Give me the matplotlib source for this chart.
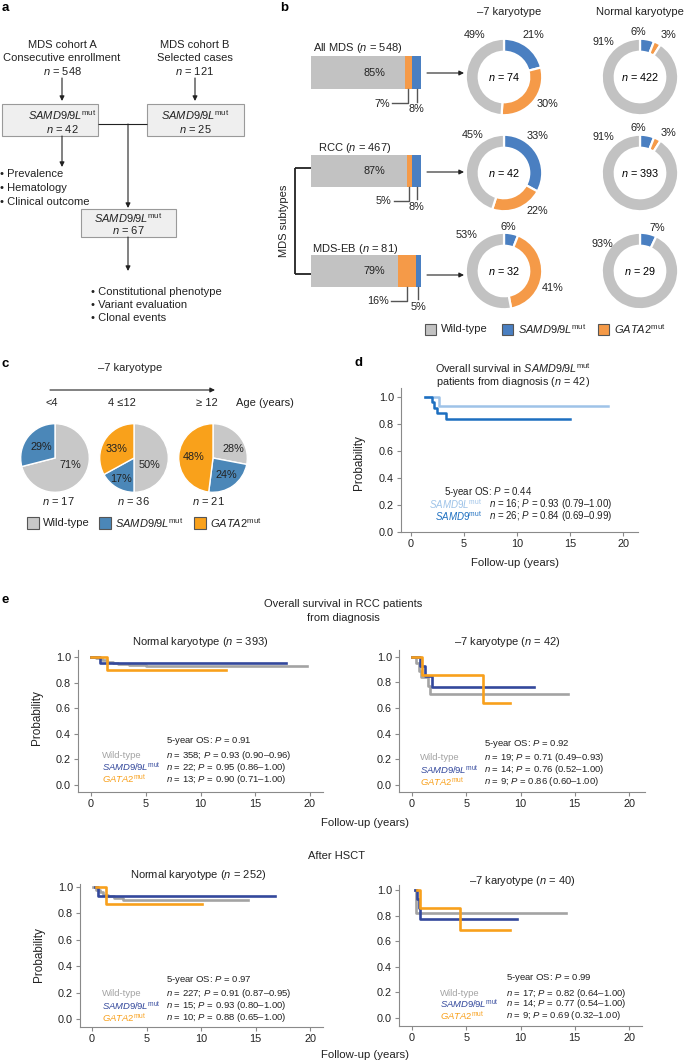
import numpy as np
import matplotlib
matplotlib.use('Agg')
from matplotlib import pyplot as plt
from matplotlib.patches import Rectangle

plt.rcParams['font.family'] = ['Liberation Sans', 'DejaVu Sans']
plt.rcParams['mathtext.fontset'] = 'custom'
plt.rcParams['mathtext.rm'] = 'Liberation Sans'
plt.rcParams['mathtext.it'] = 'Liberation Sans:italic'
plt.rcParams['mathtext.bf'] = 'Liberation Sans:bold'

# ---- data: panel b ----
bar_groups = ['All MDS', 'RCC', 'MDS-EB']
bar_n = [548, 467, 81]
bar_wt = [85, 87, 79]
bar_gata2 = [7, 5, 16]
bar_samd9 = [8, 8, 5]

m7_n = [74, 42, 32]
m7_samd9 = [21, 33, 6]
m7_gata2 = [30, 22, 41]
m7_wt = [49, 45, 53]

nk_n = [422, 393, 29]
nk_samd9 = [6, 6, 7]
nk_gata2 = [3, 3, 0]
nk_wt = [91, 91, 93]

# ---- data: panel c ----
age_groups = ['<4', '4 \u226412', '\u2265 12']
age_n = [17, 36, 21]
age_wt = [71, 50, 28]
age_samd9 = [29, 17, 24]
age_gata2 = [0, 33, 48]

# ---- data: panel d (Kaplan-Meier steps) ----
d_9l_t = [1.35, 2.7, 18.6]
d_9l_s = [1.0, 0.93, 0.93]
d_9_t = [1.35, 2.0, 2.15, 2.5, 3.3, 15.0]
d_9_s = [1.0, 0.96, 0.92, 0.88, 0.835, 0.835]

# ---- data: panel e (Kaplan-Meier steps) ----
# RCC normal karyotype
e1_wt_t = [0, 0.5, 1.0, 1.5, 2.0, 2.5, 3.5, 5.0, 19.7]
e1_wt_s = [1.0, 0.99, 0.975, 0.96, 0.95, 0.945, 0.94, 0.93, 0.93]
e1_sa_t = [0, 0.8, 17.8]
e1_sa_s = [1.0, 0.953, 0.953]
e1_ga_t = [0, 1.5, 12.3]
e1_ga_s = [1.0, 0.90, 0.90]
# RCC -7 karyotype
e2_wt_t = [0, 0.35, 0.6, 0.85, 1.5, 1.7, 14.4]
e2_wt_s = [1.0, 0.95, 0.89, 0.84, 0.77, 0.71, 0.71]
e2_sa_t = [0, 0.7, 1.2, 1.8, 11.2]
e2_sa_s = [1.0, 0.93, 0.85, 0.76, 0.76]
e2_ga_t = [0, 0.9, 6.5, 9.0]
e2_ga_s = [1.0, 0.86, 0.64, 0.64]
# HSCT normal karyotype
e3_wt_t = [0.1, 0.4, 0.7, 1.0, 1.5, 2.0, 2.8, 14.3]
e3_wt_s = [1.0, 0.98, 0.96, 0.94, 0.93, 0.92, 0.905, 0.905]
e3_sa_t = [0.3, 0.55, 16.8]
e3_sa_s = [1.0, 0.93, 0.93]
e3_ga_t = [0.4, 1.3, 10.1]
e3_ga_s = [1.0, 0.87, 0.87]
# HSCT -7 karyotype
e4_wt_t = [0.3, 0.4, 14.2]
e4_wt_s = [1.0, 0.82, 0.82]
e4_sa_t = [0.3, 0.5, 0.6, 0.75, 9.7]
e4_sa_s = [1.0, 0.93, 0.86, 0.77, 0.77]
e4_ga_t = [0.45, 0.75, 4.4, 9.0]
e4_ga_s = [1.0, 0.86, 0.69, 0.69]

# stats printed on the KM plots
d_os = '0.44'
d_n = [16, 26]
d_p = ['0.93', '0.84']
d_ci = ['0.79\u20131.00', '0.69\u20130.99']

e_os = ['0.91', '0.92', '0.97', '0.99']
e_n = [[358, 22, 13], [19, 14, 9], [227, 15, 10], [17, 14, 9]]
e_p = [['0.93', '0.95', '0.90'], ['0.71', '0.76', '0.86'],
       ['0.91', '0.93', '0.88'], ['0.82', '0.77', '0.69']]
e_ci = [['0.90\u20130.96', '0.86\u20131.00', '0.71\u20131.00'],
        ['0.49\u20130.93', '0.52\u20131.00', '0.60\u20131.00'],
        ['0.87\u20130.95', '0.80\u20131.00', '0.65\u20131.00'],
        ['0.64\u20131.00', '0.54\u20131.00', '0.32\u20131.00']]

# colours
GRAY_B, BLUE_B, ORANGE_B = '#c2c2c2', '#4a7fc1', '#f59a48'
GRAY_C, BLUE_C, ORANGE_C = '#c8c8c8', '#4b87b8', '#f9a11b'
KM_GRAY, KM_BLUE, KM_ORANGE = '#a3a3a3', '#33489c', '#f8a01c'
D_LIGHT, D_DARK = '#9ec3e8', '#1d6fc0'
TXT = '#222222'

W, H = 685, 1062
fig = plt.figure(figsize=(W / 100, H / 100), dpi=100)


def px_axes(x0, y0, x1, y1):
    return fig.add_axes([x0 / W, 1 - y1 / H, (x1 - x0) / W, (y1 - y0) / H])


def circle_axes(cx, cy, r):
    ax = px_axes(cx - r, cy - r, cx + r, cy + r)
    return ax


def draw_pie(ax, vals, cols, width=None, lw=1.0):
    v = [x for x in vals if x > 0]
    c = [cc for x, cc in zip(vals, cols) if x > 0]
    wp = dict(edgecolor='white', linewidth=lw)
    if width is not None:
        wp['width'] = width
    ax.pie(v, colors=c, startangle=90, counterclock=False, radius=1,
           wedgeprops=wp)
    ax.set_xlim(-1.02, 1.02)
    ax.set_ylim(-1.02, 1.02)
    ax.set_aspect('equal')
    ax.axis('off')


# ---- panel b: stacked bars ----
bar_rows = [(56, 89), (155, 187), (255, 287)]
for i, (y0, y1) in enumerate(bar_rows):
    ax = px_axes(311, y0, 421, y1)
    ax.barh(0, bar_wt[i], height=1, color=GRAY_B, lw=0)
    ax.barh(0, bar_gata2[i], left=bar_wt[i], height=1, color=ORANGE_B, lw=0)
    ax.barh(0, bar_samd9[i], left=bar_wt[i] + bar_gata2[i], height=1,
            color=BLUE_B, lw=0)
    ax.set_xlim(0, 100)
    ax.set_ylim(-0.5, 0.5)
    ax.axis('off')
    c_o = bar_wt[i] + bar_gata2[i] / 2
    c_b = bar_wt[i] + bar_gata2[i] + bar_samd9[i] / 2
    ax.plot([c_o, c_o, c_o - 14.5], [-0.5, -0.93, -0.93], color='#555555',
            lw=1.0, clip_on=False)
    ax.text(c_o - 16.5, -0.95, f'{bar_gata2[i]}%', ha='right', va='center',
            fontsize=7.8, color=TXT)
    ax.plot([c_b, c_b], [-0.5, -0.89], color='#555555', lw=1.0, clip_on=False)
    ax.text(c_b, -1.12, f'{bar_samd9[i]}%', ha='center', va='center',
            fontsize=7.8, color=TXT)
    ax.text(58, 0, f'{bar_wt[i]}%', ha='center', va='center', fontsize=7.8,
            color=TXT)

# ---- panel b: donuts ----
donut_y = [77, 173, 271]
for i, cy in enumerate(donut_y):
    ax = circle_axes(504, cy, 39)
    draw_pie(ax, [m7_samd9[i], m7_gata2[i], m7_wt[i]],
             [BLUE_B, ORANGE_B, GRAY_B], width=0.34, lw=1.6)
    ax.text(0, 0, f'$n$ = {m7_n[i]}', ha='center', va='center', fontsize=7.8)
    ax = circle_axes(640, cy, 39)
    draw_pie(ax, [nk_samd9[i], nk_gata2[i], nk_wt[i]],
             [BLUE_B, ORANGE_B, GRAY_B], width=0.34, lw=1.6)
    ax.text(0, 0, f'$n$ = {nk_n[i]}', ha='center', va='center', fontsize=7.8)

# ---- panel c: pies ----
pie_x = [55, 134, 213]
for i, cx in enumerate(pie_x):
    ax = circle_axes(cx, 458, 35)
    draw_pie(ax, [age_wt[i], age_samd9[i], age_gata2[i]],
             [GRAY_C, BLUE_C, ORANGE_C], lw=1.0)


# ---- KM axes ----
def km_axes(box, x_ref, y_ref):
    l, r, t, b = box
    x0, x20 = x_ref
    y1, y0 = y_ref
    ax = px_axes(l, t, r, b)
    sx = (x20 - x0) / 20
    sy = y0 - y1
    ax.set_xlim((l - x0) / sx, (r - x0) / sx)
    ax.set_ylim((y0 - b) / sy, (y0 - t) / sy)
    ax.spines[['top', 'right']].set_visible(False)
    for s in ['left', 'bottom']:
        ax.spines[s].set_color('#8a8a8a')
        ax.spines[s].set_linewidth(0.8)
    ax.set_xticks([0, 5, 10, 15, 20])
    ax.set_yticks(np.arange(0, 1.01, 0.2))
    ax.yaxis.set_major_formatter('{x:.1f}')
    ax.tick_params(length=3, width=0.8, color='#8a8a8a', labelsize=7.8,
                   pad=2, labelcolor=TXT)
    ax.patch.set_alpha(0)
    return ax


ax = km_axes((401, 638, 388, 532), (410.7, 623), (396.7, 532))
ax.step(d_9l_t, d_9l_s, where='post', color=D_LIGHT, lw=1.8)
ax.step(d_9_t, d_9_s, where='post', color=D_DARK, lw=1.8)

km_sets = [
    ((78, 323, 650, 792), (91, 310), (657, 785),
     [(e1_wt_t, e1_wt_s), (e1_sa_t, e1_sa_s), (e1_ga_t, e1_ga_s)]),
    ((399, 645, 650, 792), (412, 629), (656.7, 785),
     [(e2_wt_t, e2_wt_s), (e2_sa_t, e2_sa_s), (e2_ga_t, e2_ga_s)]),
    ((80, 323, 884, 1027), (92, 310), (887, 1019),
     [(e3_wt_t, e3_wt_s), (e3_sa_t, e3_sa_s), (e3_ga_t, e3_ga_s)]),
    ((399, 642, 885, 1026), (412, 629), (890, 1017.7),
     [(e4_wt_t, e4_wt_s), (e4_sa_t, e4_sa_s), (e4_ga_t, e4_ga_s)]),
]
for box, xr, yr, curves in km_sets:
    ax = km_axes(box, xr, yr)
    for (t, s), col in zip(curves, [KM_GRAY, KM_BLUE, KM_ORANGE]):
        ax.step(t, s, where='post', color=col, lw=1.9)

# ---- overlay for text, flowchart and annotations ----
ov = fig.add_axes([0, 0, 1, 1])
ov.set_xlim(0, W)
ov.set_ylim(H, 0)
ov.axis('off')
ov.patch.set_alpha(0)


def txt(x, y, s, size=7.8, ha='center', **kw):
    kw.setdefault('color', TXT)
    ov.text(x, y, s, fontsize=size, ha=ha, va='center', **kw)


def arrow(x0, y0, x1, y1, lw=0.8):
    ov.annotate('', xy=(x1, y1), xytext=(x0, y0),
                arrowprops=dict(arrowstyle='-|>', color=TXT, lw=lw,
                                mutation_scale=7, shrinkA=0, shrinkB=0))


def line(xs, ys, lw=0.8, color=TXT):
    ov.plot(xs, ys, color=color, lw=lw, solid_capstyle='butt')


SAMD = r'$\it{SAMD9/9L}^{\rm mut}$'
GATA = r'$\it{GATA2}^{\rm mut}$'

# panel letters
for lab, x, y in [('a', 2, 8), ('b', 280, 8), ('c', 2, 364), ('d', 355, 363),
                  ('e', 2, 600)]:
    txt(x, y, lab, size=9.5, ha='left', fontweight='bold', color='black')

# ---- panel a: flowchart ----
for y, s in zip([45, 58, 71], ['MDS cohort A', 'Consecutive enrollment',
                               r'$n$ = 548']):
    txt(62, y, s, size=8)
for y, s in zip([45, 58, 71], ['MDS cohort B', 'Selected cases',
                               r'$n$ = 121']):
    txt(195, y, s, size=8)
arrow(62, 78, 62, 101)
arrow(195, 78, 195, 101)
for (x, y, w, h) in [(2, 104, 96, 32), (147, 104, 97, 32), (81, 209, 95, 28)]:
    ov.add_patch(Rectangle((x, y), w, h, fc='#efefef', ec='#9a9a9a', lw=0.8))
txt(62, 115, SAMD, size=8)
txt(62, 129, r'$n$ = 42', size=8)
txt(195, 115, SAMD, size=8)
txt(195, 129, r'$n$ = 25', size=8)
txt(128, 218, SAMD, size=8)
txt(128, 230, r'$n$ = 67', size=8)
line([98, 147], [124, 124])
arrow(128, 124, 128, 208)
arrow(62, 136, 62, 167)
arrow(128, 237, 128, 271)
for y, s in zip([174, 188, 202], ['Prevalence', 'Hematology',
                                  'Clinical outcome']):
    txt(0, y, '\u2022 ' + s, size=8, ha='left')
for y, s in zip([292, 305, 318], ['Constitutional phenotype',
                                  'Variant evaluation', 'Clonal events']):
    txt(91, y, '\u2022 ' + s, size=8, ha='left')

# ---- panel b: text ----
txt(509, 12, '\u20137 karyotype', size=8)
txt(640, 12, 'Normal karyotype', size=8)
for (x, y), g, n in zip([(313, 48), (318, 148), (312, 249)], bar_groups, bar_n):
    txt(x, y, f'{g} ($n$ = {n})', size=8, ha='left')
for y in [73, 172, 275]:
    arrow(427, y, 464, y)
line([295, 295], [168, 274], lw=1.3)
line([295, 311], [168, 168], lw=1.3)
line([295, 311], [274, 274], lw=1.3)
txt(284, 221, 'MDS subtypes', size=8, rotation=90)

m7_lab_pos = [[(475, 35), (533, 35), (547, 104)],
              [(473, 135), (538, 136), (537, 211)],
              [(467, 235), (508, 227), (553, 288)]]
for i in range(3):
    vals = [m7_wt[i], m7_samd9[i], m7_gata2[i]]
    for (x, y), v in zip(m7_lab_pos[i], vals):
        txt(x, y, f'{v}%')
nk_lab_pos = [[(603, 42), (638, 32), (668, 35)],
              [(603, 137), (638, 128), (668, 133)],
              [(602, 244), (657, 228), None]]
for i in range(3):
    vals = [nk_wt[i], nk_samd9[i], nk_gata2[i]]
    for p, v in zip(nk_lab_pos[i], vals):
        if p is not None and v > 0:
            txt(p[0], p[1], f'{v}%')

# legend b
for x, col, lab in [(425, GRAY_B, 'Wild-type'), (502, BLUE_B, SAMD),
                    (598, ORANGE_B, GATA)]:
    ov.add_patch(Rectangle((x, 323.5), 11, 11, fc=col, ec='#555555', lw=0.8))
    txt(x + 16, 329, lab, size=8, ha='left')

# ---- panel c: text ----
txt(130, 368, '\u20137 karyotype', size=8)
arrow(50, 390, 215, 390)
for x, g in zip([52, 122, 207], age_groups):
    txt(x, 403, g, size=8)
txt(236, 403, 'Age (years)', size=8, ha='left')
c_lab_pos = [[(70, 465), (41, 447), None],
             [(149, 465), (121, 479), (117, 449)],
             [(233, 449), (226, 475), (194, 457)]]
for i in range(3):
    vals = [age_wt[i], age_samd9[i], age_gata2[i]]
    for p, v in zip(c_lab_pos[i], vals):
        if p is not None and v > 0:
            txt(p[0], p[1], f'{v}%')
for x, n in zip([58, 133, 208], age_n):
    txt(x, 501, f'$n$ = {n}', size=8)
for x, col, lab in [(27, GRAY_C, 'Wild-type'), (99, BLUE_C, SAMD),
                    (194, ORANGE_C, GATA)]:
    ov.add_patch(Rectangle((x, 517), 12, 12, fc=col, ec='#555555', lw=0.8))
    txt(x + 16, 523, lab, size=8, ha='left')

# ---- panel d: text ----
txt(513, 368, r'Overall survival in $\it{SAMD9/9L}^{\rm mut}$', size=7.8)
txt(513, 382, r'patients from diagnosis ($n$ = 42)', size=7.8)
txt(359, 463, 'Probability', size=8.5, rotation=90)
txt(515, 563, 'Follow-up (years)', size=8.2)
txt(488, 492, f'5-year OS: $P$ = {d_os}', size=7)
for y, lab, col, n, p, ci in zip([504, 516],
                                 [r'$\it{SAMD9L}^{\rm mut}$',
                                  r'$\it{SAMD9}^{\rm mut}$'],
                                 [D_LIGHT, D_DARK], d_n, d_p, d_ci):
    txt(482, y, lab, size=7, ha='right', color=col)
    txt(489, y, f'$n$ = {n}; $P$ = {p} ({ci})', size=7, ha='left')

# ---- panel e: text ----
txt(343, 604, 'Overall survival in RCC patients', size=8)
txt(343, 618, 'from diagnosis', size=8)
txt(337, 856, 'After HSCT', size=8)
txt(200, 642, r'Normal karyotype ($n$ = 393)', size=8)
txt(507, 642, '\u20137 karyotype ($n$ = 42)', size=8)
txt(198, 875, r'Normal karyotype ($n$ = 252)', size=8)
txt(522, 881, '\u20137 karyotype ($n$ = 40)', size=8)
txt(37, 718, 'Probability', size=8.5, rotation=90)
txt(39, 955, 'Probability', size=8.5, rotation=90)
txt(365, 823, 'Follow-up (years)', size=8.2)
txt(365, 1055, 'Follow-up (years)', size=8.2)

e_txt_pos = [(102, 166, [741, 756, 767, 779]),
             (420, 484, [744, 758, 770, 782]),
             (102, 166, [980, 994, 1006, 1018]),
             (440, 506, [978, 993, 1004, 1016])]
for k, (xl, xv, ys) in enumerate(e_txt_pos):
    txt(xv, ys[0], f'5-year OS: $P$ = {e_os[k]}', size=6.8, ha='left')
    for j, (lab, col) in enumerate(zip(['Wild-type', SAMD, GATA],
                                       [KM_GRAY, KM_BLUE, KM_ORANGE])):
        txt(xl, ys[j + 1], lab, size=6.8, ha='left', color=col)
        txt(xv, ys[j + 1],
            f'$n$ = {e_n[k][j]}; $P$ = {e_p[k][j]} ({e_ci[k][j]})',
            size=6.8, ha='left')

fig.savefig('out.png', dpi=100)
plt.close(fig)
